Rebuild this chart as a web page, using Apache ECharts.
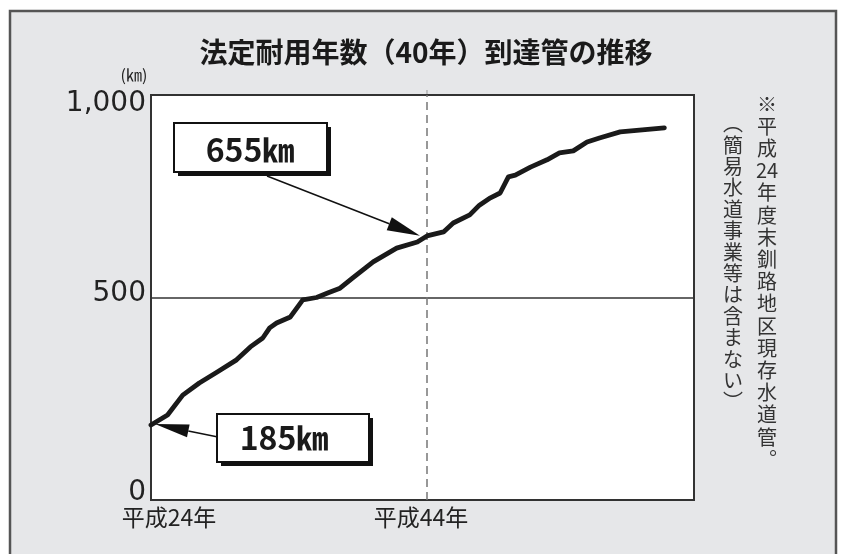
<!DOCTYPE html>
<html><head><meta charset="utf-8">
<script src="https://cdn.jsdelivr.net/npm/echarts/dist/echarts.min.js"></script>
<style>html,body{margin:0;padding:0;background:#fff}#c{width:841px;height:554px}</style>
</head><body><div id="c"></div>
<script>
// ---- data ----
const title = '法定耐用年数（40年）到達管の推移';
const unitLabel = '(㎞)';
const years  = [24, 25.2, 26.3, 27.5, 28.8, 30.2, 31.2, 32.1, 32.6, 33.1, 34.1, 35.0, 36.0, 36.8, 37.7, 38.6, 40.1, 41.8, 43.3, 44.0, 45.2, 45.9, 47.1, 47.8, 48.6, 49.3, 49.9, 50.4, 51.5, 52.7, 53.6, 54.6, 55.6, 56.5, 58.0, 61.2];
const values = [185, 210, 259, 289, 316, 346, 378, 400, 425, 437, 452, 494, 500, 511, 523, 548, 588, 622, 637, 652, 662, 684, 704, 728, 746, 758, 798, 802, 822, 840, 857, 862, 884, 894, 909, 919];
const yTickLabels = {0: '0', 500: '500', 1000: '1,000'};
const xTickLabels = {24: '平成24年', 44: '平成44年'};
const markYear = 44;
const callouts = [
  {year: 44, value: 655, text: '655㎞'},
  {year: 24, value: 185, text: '185㎞'}
];
const noteMain = ['※','平','成','24','年','度','末','釧','路','地','区','現','存','水','道','管','︒'];
const noteSub  = ['︵','簡','易','水','道','事','業','等','は','含','ま','な','い','︶'];

const CJK = "'Noto Sans CJK JP', sans-serif";
const chart = echarts.init(document.getElementById('c'));
const seriesData = years.map((y, i) => [y, values[i]]);

chart.setOption({
  animation: false,
  backgroundColor: '#ffffff',
  grid: {left: 151, top: 95, right: 147, bottom: 54, show: true, backgroundColor: '#ffffff', borderColor: '#333', borderWidth: 2},
  xAxis: {
    type: 'value', min: 24, max: 63.35, interval: 20,
    axisLine: {show: false}, axisTick: {show: false}, splitLine: {show: false},
    axisLabel: {
      showMaxLabel: false, margin: 6, color: '#222', fontFamily: CJK, fontSize: 23,
      formatter: v => v === 24 ? '{l|' + xTickLabels[24] + '}' : (v === 44 ? '{r|' + xTickLabels[44] + '}' : ''),
      rich: {
        l: {padding: [0, 0, 0, 36], fontFamily: CJK, fontSize: 23, color: '#222'},
        r: {padding: [0, 12, 0, 0], fontFamily: CJK, fontSize: 23, color: '#222'}
      }
    }
  },
  yAxis: {
    type: 'value', min: 0, max: 1000, interval: 500,
    axisLine: {show: false}, axisTick: {show: false},
    splitLine: {show: true, lineStyle: {color: '#333', width: 1.5}},
    axisLabel: {
      margin: 5, color: '#222', fontFamily: 'DejaVu Sans', fontSize: 28,
      formatter: v => v === 1000 ? '{t|' + yTickLabels[1000] + '}' : (v === 0 ? '{b|' + yTickLabels[0] + '}' : '{m|' + yTickLabels[500] + '}'),
      rich: {
        t: {padding: [18, 0, 0, 0], fontFamily: 'DejaVu Sans', fontSize: 28, color: '#222'},
        m: {padding: [0, 0, 8, 0], fontFamily: 'DejaVu Sans', fontSize: 28, color: '#222'},
        b: {padding: [0, 0, 14, 0], fontFamily: 'DejaVu Sans', fontSize: 28, color: '#222'}
      }
    }
  },
  series: [{
    type: 'line', data: seriesData, showSymbol: false, smooth: false, z: 5,
    lineStyle: {color: '#1a1a1a', width: 4.8, join: 'round', cap: 'round'},
    markLine: {
      silent: true, symbol: 'none', label: {show: false},
      lineStyle: {color: '#777', width: 1.5, type: [8, 5]},
      data: [{xAxis: markYear}]
    }
  }]
});

function arrow(tail, tip, len, wid) {
  const dx = tip[0] - tail[0], dy = tip[1] - tail[1];
  const d = Math.hypot(dx, dy), ux = dx / d, uy = dy / d;
  const bx = tip[0] - ux * len, by = tip[1] - uy * len;
  const px = -uy * wid / 2, py = ux * wid / 2;
  return [
    {type: 'line', z: 20, shape: {x1: tail[0], y1: tail[1], x2: bx, y2: by}, style: {stroke: '#111', lineWidth: 1.5}},
    {type: 'polygon', z: 20, shape: {points: [[tip[0], tip[1]], [bx + px, by + py], [bx - px, by - py]]}, style: {fill: '#111'}}
  ];
}
function box(x, y, w, h, text, tx, ty) {
  return [
    {type: 'rect', z: 20, shape: {x: x + 4, y: y + 4, width: w, height: h}, style: {fill: '#111'}},
    {type: 'rect', z: 21, shape: {x: x, y: y, width: w, height: h}, style: {fill: '#fff', stroke: '#111', lineWidth: 2}},
    {type: 'text', z: 22, x: tx, y: ty, style: {text: text, fill: '#1a1a1a', font: 'bold 32px ' + CJK, textAlign: 'center', textVerticalAlign: 'middle'}}
  ];
}

const p1 = chart.convertToPixel({gridIndex: 0}, [callouts[0].year, callouts[0].value]);
const p2 = chart.convertToPixel({gridIndex: 0}, [callouts[1].year, callouts[1].value]);

const graphics = [
  {type: 'rect', z: -100, shape: {x: 10, y: 11, width: 826, height: 560}, style: {fill: '#e6e7e9', stroke: '#555', lineWidth: 2.5}},
  {type: 'text', z: 10, x: 426, y: 52, style: {text: title, fill: '#1a1a1a', font: 'bold 28px ' + CJK, textAlign: 'center', textVerticalAlign: 'middle'}},
  {type: 'text', z: 10, x: 134, y: 75, style: {text: unitLabel, fill: '#222', font: '16px ' + CJK, textAlign: 'center', textVerticalAlign: 'middle'}},
  {type: 'text', z: 10, x: 767, y: 93, style: {text: noteMain.join('\n'), fill: '#333', font: '20px ' + CJK, lineHeight: 22.2, textAlign: 'center', textVerticalAlign: 'top'}},
  {type: 'text', z: 10, x: 733, y: 113, style: {text: noteSub.join('\n'), fill: '#333', font: '20px ' + CJK, lineHeight: 21.4, textAlign: 'center', textVerticalAlign: 'top'}},
  {type: 'line', z: 10, shape: {x1: p1[0], y1: 90, x2: p1[0], y2: 94}, style: {stroke: '#999', lineWidth: 1}},
  ...arrow([267, 176], [p1[0] - 7, p1[1] + 1], 33, 14),
  ...arrow([218, 437], [p2[0] + 4, p2[1] - 1], 34, 13),
  ...box(174, 123, 153, 49, callouts[0].text, 250, 150),
  ...box(217, 414, 152, 48, callouts[1].text, 284, 438)
];
chart.setOption({graphic: graphics});
</script></body></html>
